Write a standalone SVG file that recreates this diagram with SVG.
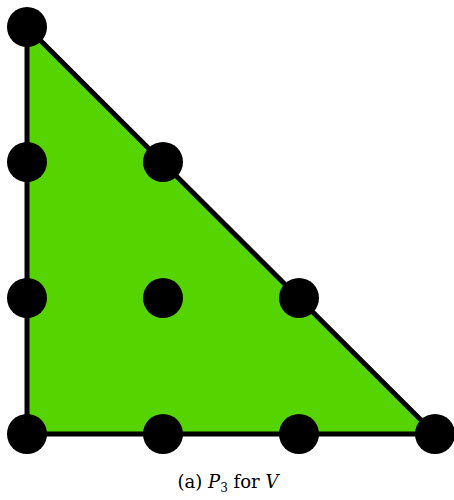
<svg xmlns="http://www.w3.org/2000/svg" width="454" height="500" viewBox="0 0 454 500">
<style>
.dot{fill:#000}
.cap{font-family:"DejaVu Serif","Liberation Serif",serif;font-size:18px;fill:#000}
</style>
<rect width="454" height="500" fill="#fff"/>
<g id="connectors">
<polygon points="27,27 27,434 435,434" fill="#55d400" stroke="#000" stroke-width="5" stroke-linejoin="miter"/>
</g>
<g id="n03"><circle class="dot" cx="27" cy="27" r="20"/></g>
<g id="n02"><circle class="dot" cx="27" cy="162" r="20"/></g>
<g id="n12"><circle class="dot" cx="163" cy="162" r="20"/></g>
<g id="n01"><circle class="dot" cx="27" cy="298" r="20"/></g>
<g id="n11"><circle class="dot" cx="163" cy="298" r="20"/></g>
<g id="n21"><circle class="dot" cx="299" cy="298" r="20"/></g>
<g id="n00"><circle class="dot" cx="27" cy="434" r="20"/></g>
<g id="n10"><circle class="dot" cx="163" cy="434" r="20"/></g>
<g id="n20"><circle class="dot" cx="299" cy="434" r="20"/></g>
<g id="n30"><circle class="dot" cx="435" cy="434" r="20"/></g>
<text class="cap" x="228" y="488" text-anchor="middle">(a) <tspan font-style="italic">P</tspan><tspan font-size="12" dy="4">3</tspan><tspan dy="-4"> for </tspan><tspan font-style="italic">V</tspan></text>
</svg>
